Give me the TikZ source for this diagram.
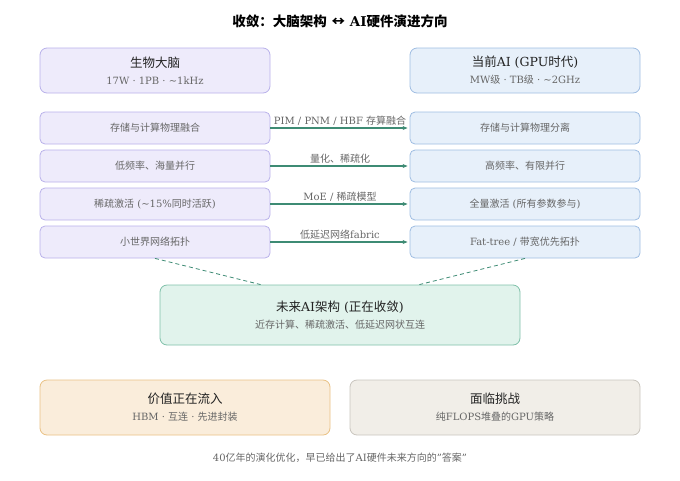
\documentclass[tikz,border=0pt]{standalone}
\usepackage{fontspec}
\setmainfont{DejaVu Serif}
\newfontfamily\cjkfont{Noto Sans CJK SC}
\usetikzlibrary{arrows.meta, positioning, calc}

% switch to the CJK font for CJK characters
\XeTeXinterchartokenstate=1
\newXeTeXintercharclass\CJKcls
\newcount\cjkc
\cjkc="4E00
\loop \XeTeXcharclass\cjkc=\CJKcls \advance\cjkc by 1 \ifnum\cjkc<"A000 \repeat
\cjkc="3000
\loop \XeTeXcharclass\cjkc=\CJKcls \advance\cjkc by 1 \ifnum\cjkc<"3040 \repeat
\cjkc="FF00
\loop \XeTeXcharclass\cjkc=\CJKcls \advance\cjkc by 1 \ifnum\cjkc<"FFF0 \repeat
\XeTeXcharclass"2194=\CJKcls
\XeTeXinterchartoks 0 \CJKcls = {\begingroup\cjkfont}
\XeTeXinterchartoks 4095 \CJKcls = {\begingroup\cjkfont}
\XeTeXinterchartoks \CJKcls 0 = {\endgroup}
\XeTeXinterchartoks \CJKcls 4095 = {\endgroup}

\definecolor{brainfill}{HTML}{EEEBFB}
\definecolor{braindraw}{HTML}{B9B1EA}
\definecolor{gpufill}{HTML}{E7F0FA}
\definecolor{gpudraw}{HTML}{9FBDE2}
\definecolor{futfill}{HTML}{E1F3EC}
\definecolor{futdraw}{HTML}{7FC0A9}
\definecolor{valfill}{HTML}{FAEDDB}
\definecolor{valdraw}{HTML}{E9C184}
\definecolor{chalfill}{HTML}{F1EEE8}
\definecolor{chaldraw}{HTML}{C9C5BE}
\definecolor{linkc}{HTML}{3E8B74}
\definecolor{txt}{HTML}{222222}
\definecolor{subtxt}{HTML}{666666}

\tikzset{
  bigbox/.style={draw, rounded corners=7pt, line width=0.8pt, minimum height=45pt, align=center, text=txt, font=\fontsize{12.5}{15}\selectfont},
  rowbox/.style={draw, rounded corners=5pt, line width=0.8pt, minimum width=230pt, minimum height=32pt, align=center, text=subtxt, font=\fontsize{10}{12}\selectfont},
  brain/.style={fill=brainfill, draw=braindraw},
  gpu/.style={fill=gpufill, draw=gpudraw},
  link/.style={-{Stealth[length=5pt,width=4pt]}, draw=linkc, line width=1.2pt, shorten >=2pt},
  linklabel/.style={font=\fontsize{10}{12}\selectfont, text=subtxt, above=-1pt},
  merge/.style={draw=linkc, dashed, dash pattern=on 4pt off 3pt, line width=0.8pt}
}
\newcommand{\subline}[1]{\\[2pt]{\fontsize{10}{12}\selectfont\color{subtxt}#1}}

\begin{document}
\begin{tikzpicture}[x=1pt, y=-1pt]
  \useasboundingbox (0,0) rectangle (680,480);

  \node (title) at (340,21) {\fontsize{13.5}{16}\selectfont\bfseries 收敛：大脑架构 ↔ AI硬件演进方向};

  % top boxes
  \node[bigbox, brain, minimum width=230pt] (brainhd) at (155,70.5) {生物大脑\subline{17W · 1PB · \textasciitilde1kHz}};
  \node[bigbox, gpu, minimum width=230pt] (gpuhd) at (525,70.5) {当前AI (GPU时代)\subline{MW级 · TB级 · \textasciitilde2GHz}};

  % rows
  \node[rowbox, brain] (b1) at (155,128) {存储与计算物理融合};
  \node[rowbox, brain] (b2) at (155,166) {低频率、海量并行};
  \node[rowbox, brain] (b3) at (155,204) {稀疏激活 (\textasciitilde15\%同时活跃)};
  \node[rowbox, brain] (b4) at (155,242) {小世界网络拓扑};
  \node[rowbox, gpu] (g1) at (525,128) {存储与计算物理分离};
  \node[rowbox, gpu] (g2) at (525,166) {高频率、有限并行};
  \node[rowbox, gpu] (g3) at (525,204) {全量激活 (所有参数参与)};
  \node[rowbox, gpu] (g4) at (525,242) {Fat-tree / 带宽优先拓扑};

  \draw[link] (b1) -- node[linklabel] {PIM / PNM / HBF 存算融合} (g1);
  \draw[link] (b2) -- node[linklabel] {量化、稀疏化} (g2);
  \draw[link] (b3) -- node[linklabel] {MoE / 稀疏模型} (g3);
  \draw[link] (b4) -- node[linklabel] {低延迟网络fabric} (g4);

  % future architecture
  \node[bigbox, fill=futfill, draw=futdraw, minimum width=360pt, minimum height=60pt] (future) at (340,315) {未来AI架构 (正在收敛)\subline{近存计算、稀疏激活、低延迟网状互连}};
  \draw[merge] (b4.south) -- ($(future.north west)!0.28!(future.north east)$);
  \draw[merge] (g4.south) -- ($(future.north west)!0.72!(future.north east)$);

  % bottom boxes
  \node[bigbox, fill=valfill, draw=valdraw, minimum width=290pt, minimum height=55pt] (value) at (185,407.5) {价值正在流入\subline{HBM · 互连 · 先进封装}};
  \node[bigbox, fill=chalfill, draw=chaldraw, minimum width=290pt, minimum height=55pt] (challenge) at (495,407.5) {面临挑战\subline{纯FLOPS堆叠的GPU策略}};

  \node[font=\fontsize{10}{12}\selectfont, text=subtxt] (footer) at (340,458) {40亿年的演化优化，早已给出了AI硬件未来方向的"答案"};
\end{tikzpicture}
\end{document}
